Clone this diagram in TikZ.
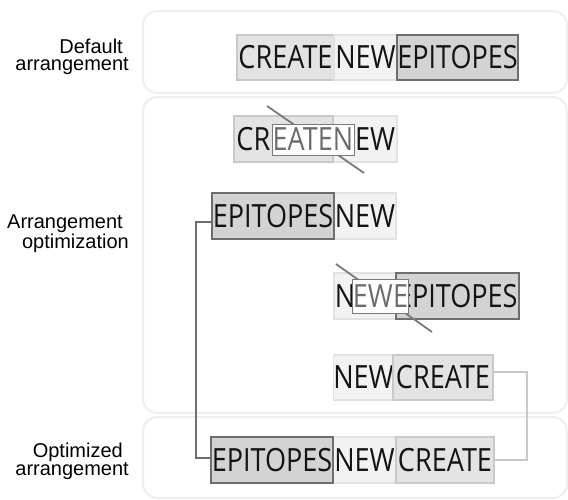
\documentclass[tikz,border=0pt]{standalone}
\usepackage{fontspec}
\newfontfamily\wordfont{Open Sans}[FakeStretch=0.845]
\newfontfamily\labfont{Liberation Sans}
\definecolor{panelc}{HTML}{EEEEEE}
\definecolor{cfill}{HTML}{E3E3E3}
\definecolor{cdraw}{HTML}{C9C9C9}
\definecolor{nfill}{HTML}{F1F2F1}
\definecolor{ndraw}{HTML}{E2E2E2}
\definecolor{efill}{HTML}{D2D3D2}
\definecolor{edraw}{HTML}{6E6E6E}
\definecolor{txt}{HTML}{141414}
\definecolor{otxt}{HTML}{6C6C6C}
\definecolor{odraw}{HTML}{7A7A7A}
\definecolor{rcol}{HTML}{C8C8C8}
\tikzset{
  panel/.style={draw=panelc, line width=2pt, fill=white, rounded corners=14pt},
  word/.style={inner sep=0pt, font=\wordfont\fontsize{32}{32}\selectfont, text=txt},
  cbox/.style={word, fill=cfill, draw=cdraw, line width=1.5pt},
  nbox/.style={word, fill=nfill, draw=ndraw, line width=1.5pt},
  ebox/.style={word, fill=efill, draw=edraw, line width=1.8pt},
  obox/.style={word, fill=white, draw=odraw, line width=1pt, text=otxt},
  cut/.style={draw=odraw, line width=1.8pt},
  lab/.style={inner sep=0pt, font=\labfont\fontsize{20}{17}\selectfont, align=right, anchor=east, text=black},
  lconn/.style={draw=edraw, line width=2pt},
  rconn/.style={draw=rcol, line width=2pt}
}
\begin{document}
\begin{tikzpicture}[x=1pt,y=-1pt]
\useasboundingbox (0,0) rectangle (568,499);
% panels
\draw[panel] (143,11) rectangle (567,93);
\draw[panel] (143,97) rectangle (567,413);
\draw[panel] (143,417) rectangle (567,498);
% labels
\node[lab] (l1) at (129,56.5) {Default\kern6pt\\arrangement};
\node[lab] (l2) at (129,233.5) {Arrangement\kern6pt\\optimization};
\node[lab] (l3) at (129,461.5) {Optimized\kern6pt\\arrangement};
% row 1
\node[cbox, minimum width=97pt, minimum height=45pt] (c1) at (285.5,57.5) {CREATE};
\node[nbox, minimum width=63pt, minimum height=45pt] (n1) at (365.5,57.5) {NEW};
\node[ebox, minimum width=121pt, minimum height=45pt] (e1) at (457.5,57.5) {EPITOPES};
% row 2
\node[nbox, minimum width=64pt, minimum height=46pt] (n2) at (365,139) {NEW};
\node[cbox, minimum width=99pt, minimum height=46pt] (c2) at (283.5,139) {CREATE};
\coordinate (t2a) at (267,106);
\coordinate (t2b) at (364,173);
\draw[cut] (t2a) -- (t2b);
\node[obox, minimum width=82pt, minimum height=31pt] (o2) at (313,139.5) {EATEN};
% row 3
\node[nbox, minimum width=62pt, minimum height=46pt] (n3) at (365,216) {NEW};
\node[ebox, minimum width=122pt, minimum height=46pt] (e3) at (273,216) {EPITOPES};
% row 4
\node[nbox, minimum width=62pt, minimum height=46pt] (n4) at (365,296) {NEW};
\node[ebox, minimum width=123pt, minimum height=46pt, text width=121pt, align=left] (e4) at (457.5,296) {EPITOPES};
\coordinate (t4a) at (336,264);
\coordinate (t4b) at (432,332);
\draw[cut] (t4a) -- (t4b);
\node[obox, minimum width=55pt, minimum height=34pt] (o4) at (380.5,296) {EWE};
% row 5
\node[nbox, minimum width=59pt, minimum height=45pt] (n5) at (363.5,377.5) {NEW};
\node[cbox, minimum width=100pt, minimum height=45pt] (c5) at (443,377.5) {CREATE};
% row 6
\node[nbox, minimum width=63pt, minimum height=46pt] (n6) at (364.5,460) {NEW};
\node[cbox, minimum width=98pt, minimum height=46pt] (c6) at (445,460) {CREATE};
\node[ebox, minimum width=122pt, minimum height=46pt] (e6) at (272,460) {EPITOPES};
% connectors
\coordinate (lc) at (196,300);
\draw[lconn] ([yshift=-6pt]e3.west) -| (lc) |- ([yshift=2pt]e6.west);
\coordinate (rc) at (527,420);
\draw[rconn] ([yshift=5.5pt]c5.east) -| (rc) |- (c6.east);
\end{tikzpicture}
\end{document}
